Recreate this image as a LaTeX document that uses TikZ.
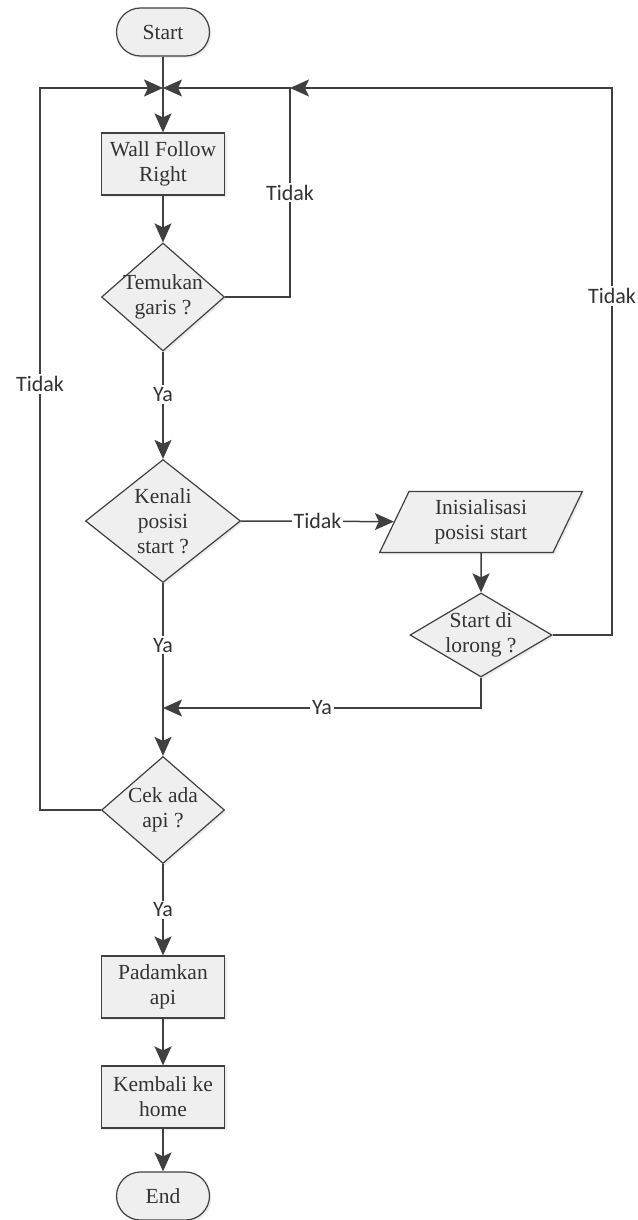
\documentclass[tikz,border=0pt]{standalone}
\usepackage{fontspec}
\setmainfont{Liberation Serif}
\newfontfamily\lblfont{Carlito}
\usetikzlibrary{shapes.geometric,arrows.meta,shadows}
\definecolor{linegray}{HTML}{404040}
\definecolor{boxfill}{HTML}{EFEFEF}
\begin{document}
\begin{tikzpicture}[x=1pt,y=-1pt,
  every node/.style={font=\fontsize{21.5}{25}\selectfont, text=black!80},
  base/.style={draw=linegray, fill=boxfill, line width=1.2pt,
    drop shadow={shadow xshift=2pt, shadow yshift=-2pt, opacity=.15}},
  term/.style={base, rectangle, rounded corners=24pt, minimum width=93pt,
    minimum height=48pt, inner sep=0pt},
  proc/.style={base, rectangle, minimum width=123pt, minimum height=62pt,
    inner sep=0pt, align=center},
  decide/.style={base, diamond, inner sep=-14pt, align=center},
  io/.style={base, trapezium, trapezium left angle=67, trapezium right angle=113,
    trapezium stretches=true, minimum width=203pt, minimum height=61pt,
    inner sep=0pt, align=center},
  lbl/.style={fill=white, font=\lblfont\fontsize{22}{24}\selectfont, inner sep=2pt},
  flow/.style={draw=linegray, line width=1.5pt,
    -{Stealth[length=19pt,width=17pt,inset=4pt]}},
  wire/.style={draw=linegray, line width=1.5pt}]
\useasboundingbox (0,0) rectangle (637,1220);
% blocks
\node[term] (start) at (163,32) {Start};
\node[proc] (wall) at (163,164) {Wall Follow\\Right};
\node[decide, minimum width=123pt, minimum height=108pt] (temukan) at (163,297) {Temukan\\garis ?};
\node[decide, minimum width=155pt, minimum height=123pt] (kenali) at (163,521) {Kenali\\posisi\\start ?};
\node[io] (init) at (481,522) {Inisialisasi\\posisi start};
\node[decide, minimum width=142pt, minimum height=84pt] (lorong) at (481,635) {Start di\\lorong ?};
\node[decide, minimum width=123pt, minimum height=107pt] (cek) at (163,810) {Cek ada\\api ?};
\node[proc] (padam) at (163,987) {Padamkan\\api};
\node[proc] (kembali) at (163,1097) {Kembali ke\\home};
\node[term] (end) at (163,1196) {End};
% junction points
\coordinate (j) at (163,88);
\coordinate (jr) at (290,88);
\coordinate (rt) at (612,88);
\coordinate (rc) at (612,635);
\coordinate (lt) at (40,88);
\coordinate (lc) at (40,810);
\coordinate (kc) at (163,708);
% main column
\draw[flow] (start) -- (wall);
\draw[flow] (wall) -- (temukan);
\draw[flow] (temukan) -- node[lbl, pos=0.4] {Ya} (kenali);
\draw[flow] (kenali) -- node[lbl, pos=0.36] {Ya} (cek);
\draw[flow] (cek) -- node[lbl] {Ya} (padam);
\draw[flow] (padam) -- (kembali);
\draw[flow] (kembali) -- (end);
% side branch
\draw[flow] (kenali.east) -- node[lbl] {Tidak} (init);
\draw[flow] (init) -- (lorong);
\draw[flow] (lorong.south) |- node[lbl, pos=0.75] {Ya} (kc);
% loops back to the top
\draw[flow] (temukan.east) -| node[lbl, pos=0.75] {Tidak} (jr) -- (j);
\draw[flow] (lorong.east) -- (rc) -- node[lbl, pos=0.62] {Tidak} (rt) -- (jr);
\draw[flow] (cek.west) -- (lc) -- node[lbl, pos=0.59] {Tidak} (lt) -- (j);
\end{tikzpicture}
\end{document}
